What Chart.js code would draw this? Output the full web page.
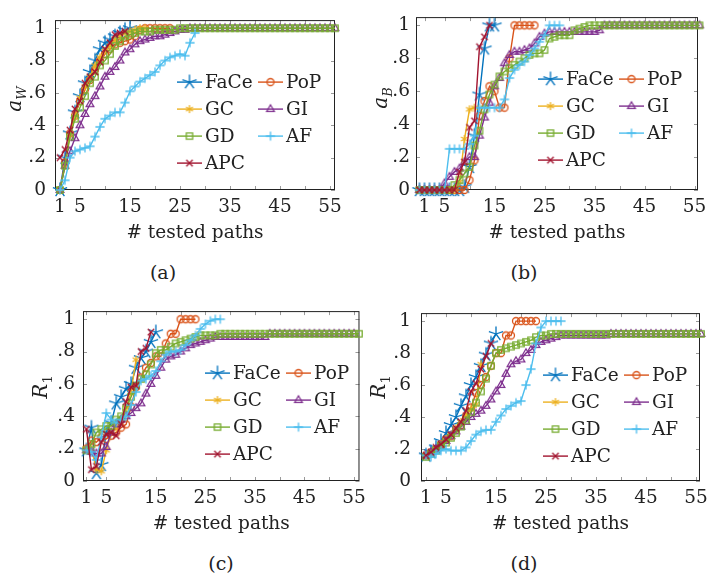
<!DOCTYPE html>
<html>
<head>
<meta charset="utf-8">
<script src="https://cdn.jsdelivr.net/npm/chart.js@4.4.1/dist/chart.umd.min.js"></script>
<style>
  body { margin: 0; background: #fff; width: 721px; height: 584px; position: relative; overflow: hidden;
         font-family: 'DejaVu Serif', serif; color: #222; }
  canvas { position: absolute; }
  .cap { position: absolute; font-size: 19px; transform: translate(-50%, -50%); white-space: nowrap; }
  .yt { position: absolute; font-size: 20px; font-style: italic; white-space: nowrap;
        transform: translate(-50%, -50%) rotate(-90deg); }
  .yt sub { font-size: 13px; font-style: italic; }
  .yt sub.n { font-style: normal; }
</style>
</head>
<body>

<canvas id="pa" width="360" height="250" style="left:0;top:0"></canvas>
<canvas id="pb" width="361" height="250" style="left:360px;top:0"></canvas>
<canvas id="pc" width="372" height="250" style="left:0;top:292px"></canvas>
<canvas id="pd" width="349" height="250" style="left:372px;top:292px"></canvas>

<div class="yt" style="left:15px;top:99px">a<sub>W</sub></div>
<div class="yt" style="left:381px;top:98px">a<sub>B</sub></div>
<div class="yt" style="left:41px;top:387px">R<sub class="n">1</sub></div>
<div class="yt" style="left:379px;top:387px">R<sub class="n">1</sub></div>

<div class="cap" style="left:163px;top:272px">(a)</div>
<div class="cap" style="left:524px;top:272px">(b)</div>
<div class="cap" style="left:221px;top:563px">(c)</div>
<div class="cap" style="left:524px;top:563px">(d)</div>

<script>
// series order = legend order (filled row by row, two columns)
const SERIES = ['FaCe', 'PoP', 'GC', 'GI', 'GD', 'AF', 'APC'];
const COLORS = ['#0072bd', '#d95319', '#edb120', '#7e2f8e', '#77ac30', '#4dbeee', '#a2142f'];
const MARKS = ['star', 'circle', 'asterisk', 'triangle', 'square', 'plus', 'cross'];

const XTICKS = [1, 5, 10, 15, 20, 25, 30, 35, 40, 45, 50, 55];
const XLABELS = [1, 5, 15, 25, 35, 45, 55];
const YTICKS = [0, 0.2, 0.4, 0.6, 0.8, 1];
const YLABELS = ['0', '.2', '.4', '.6', '.8', '1'];

// (a) a_W, x = 1, 2, ...
const A_FaCe = [0, 0.2, 0.35, 0.48, 0.58, 0.66, 0.73, 0.8, 0.87, 0.91, 0.93, 0.95, 0.97, 0.99, 1];
const A_PoP = [0, 0.17, 0.35, 0.46, 0.55, 0.62, 0.68, 0.74, 0.8, 0.84, 0.87, 0.9, 0.91, 0.92, 0.93, 0.95, 0.99, 1, 1, 1, 1, 1, 1];
const A_GC = [0, 0.15, 0.34, 0.45, 0.57, 0.64, 0.7, 0.77, 0.82, 0.86, 0.89, 0.93, 0.95, 0.97, 0.98, 0.99, 1, 1];
const A_GI = [0, 0.15, 0.24, 0.32, 0.4, 0.47, 0.53, 0.58, 0.64, 0.7, 0.73, 0.76, 0.8, 0.85, 0.87, 0.9, 0.92, 0.93, 0.94, 0.95, 0.95, 0.96, 0.97, 0.98, 0.99, 0.99,
  1, 1, 1, 1, 1, 1, 1, 1, 1, 1, 1, 1, 1, 1, 1, 1, 1, 1, 1, 1, 1, 1, 1, 1, 1, 1, 1, 1, 1, 1];
const A_GD = [0, 0.15, 0.33, 0.44, 0.51, 0.58, 0.66, 0.7, 0.77, 0.8, 0.84, 0.89, 0.92, 0.95, 0.96, 0.97, 0.98, 0.98, 0.98, 0.99, 0.99, 0.99, 0.99, 0.99,
  1, 1, 1, 1, 1, 1, 1, 1, 1, 1, 1, 1, 1, 1, 1, 1, 1, 1, 1, 1, 1, 1, 1, 1, 1, 1, 1, 1, 1, 1, 1, 1];
const A_AF = [0, 0.06, 0.2, 0.24, 0.25, 0.26, 0.27, 0.33, 0.39, 0.44, 0.46, 0.48, 0.48, 0.54, 0.61, 0.64, 0.67, 0.69, 0.71, 0.73, 0.77, 0.8, 0.82, 0.83, 0.84, 0.83, 0.91, 0.97];
const A_APC = [0.2, 0.25, 0.37, 0.5, 0.55, 0.66, 0.7, 0.73, 0.79, 0.87, 0.91, 0.96, 0.97, 0.98];

// (b) a_B, x = 0, 1, 2, ...
const B_FaCe = [0, 0, 0, 0, 0, 0, 0, 0, 0, 0.02, 0.14, 0.33, 0.58, 0.86, 1, 1];
const B_PoP = [0, 0, 0, 0, 0, 0, 0, 0, 0, 0, 0.06, 0.18, 0.45, 0.54, 0.63, 0.6, 0.5, 0.5, 0.8, 1, 1, 1, 1, 1];
const B_GC = [0, 0, 0, 0, 0, 0, 0, 0, 0.05, 0.31, 0.49, 0.5];
const B_GI = [0, 0, 0, 0, 0, 0.04, 0.08, 0.11, 0.13, 0.17, 0.2, 0.2, 0.33, 0.44, 0.53, 0.63, 0.68, 0.77, 0.82, 0.84, 0.84, 0.85, 0.86, 0.89, 0.93, 0.95,
  0.96, 0.96, 0.96, 0.96, 0.96, 0.96, 0.96, 0.96, 0.96, 0.96, 0.97,
  1, 1, 1, 1, 1, 1, 1, 1, 1, 1, 1, 1, 1, 1, 1, 1, 1, 1, 1, 1];
const B_GD = [0, 0, 0, 0, 0, 0, 0, 0.03, 0.06, 0.1, 0.14, 0.27, 0.36, 0.49, 0.58, 0.64, 0.69, 0.72, 0.74, 0.76, 0.78, 0.8, 0.82, 0.83, 0.83, 0.85,
  0.92, 0.93, 0.94, 0.94, 0.94, 0.97, 0.98, 0.99,
  1, 1, 1, 1, 1, 1, 1, 1, 1, 1, 1, 1, 1, 1, 1, 1, 1, 1, 1, 1, 1, 1, 1];
const B_AF = [0, 0, 0, 0, 0, 0, 0.25, 0.25, 0.25, 0.25, 0.28, 0.33, 0.5, 0.5, 0.5, 0.5, 0.5, 0.55, 0.68, 0.73, 0.76, 0.78, 0.82, 0.86, 0.9, 0.94, 1, 1, 1];
const B_APC = [0, 0, 0, 0, 0, 0, 0, 0, 0.11, 0.17, 0.38, 0.42, 0.87, 0.93, 1];

// (c) R_1, x = 1, 2, ...
const C_FaCe = [0.19, 0.33, 0.05, 0.1, 0.3, 0.36, 0.48, 0.52, 0.57, 0.6, 0.7, 0.76, 0.8, 0.86, 0.92];
const C_PoP = [0.2, 0.25, 0.24, 0.27, 0.26, 0.28, 0.3, 0.33, 0.35, 0.46, 0.58, 0.64, 0.7, 0.73, 0.77, 0.77, 0.85, 0.91, 0.91, 1, 1, 1, 1];
const C_GC = [0.2, 0.2, 0.07, 0.06, 0.19, 0.3, 0.33, 0.38, 0.45, 0.55, 0.75];
const C_GI = [0.19, 0.18, 0.17, 0.17, 0.21, 0.3, 0.35, 0.38, 0.4, 0.42, 0.45, 0.48, 0.54, 0.6, 0.65, 0.7, 0.75, 0.77, 0.78, 0.8, 0.82, 0.84, 0.85, 0.86, 0.87, 0.88,
  0.89, 0.89, 0.89, 0.89, 0.89, 0.89, 0.89, 0.89, 0.89, 0.89, 0.89,
  0.91, 0.91, 0.91, 0.91, 0.91, 0.91, 0.91, 0.91, 0.91, 0.91, 0.91, 0.91, 0.91, 0.91, 0.91, 0.91, 0.91, 0.91];
const C_GD = [0.19, 0.23, 0.3, 0.32, 0.34, 0.34, 0.38, 0.4, 0.45, 0.52, 0.59, 0.63, 0.66, 0.72, 0.79, 0.81, 0.81, 0.83, 0.85, 0.86, 0.87, 0.88, 0.89, 0.9, 0.9, 0.9, 0.9,
  0.91, 0.91, 0.91, 0.91, 0.91, 0.91, 0.91, 0.91, 0.91, 0.91, 0.91, 0.91, 0.91, 0.91, 0.91, 0.91, 0.91, 0.91, 0.91, 0.91, 0.91, 0.91, 0.91, 0.91, 0.91, 0.91, 0.91, 0.91, 0.91];
const C_AF = [0.19, 0.18, 0.13, 0.27, 0.42, 0.38, 0.36, 0.38, 0.4, 0.47, 0.55, 0.62, 0.63, 0.65, 0.68, 0.74, 0.78, 0.8, 0.8, 0.81, 0.84, 0.87, 0.9, 0.94, 0.97, 0.99, 1, 1];
const C_APC = [0.32, 0.07, 0.09, 0.24, 0.29, 0.3, 0.28, 0.35, 0.49, 0.58, 0.59, 0.8, 0.82, 0.92];

// (d) R_1, x = 1, 2, ...
const D_FaCe = [0.16, 0.18, 0.21, 0.25, 0.3, 0.35, 0.4, 0.47, 0.53, 0.6, 0.65, 0.72, 0.79, 0.86, 0.92];
const D_PoP = [0.16, 0.18, 0.2, 0.23, 0.26, 0.28, 0.32, 0.35, 0.4, 0.46, 0.55, 0.6, 0.65, 0.72, 0.8, 0.8, 0.91, 0.91, 1, 1, 1, 1, 1];
const D_GC = [0.16, 0.18, 0.2, 0.23, 0.26, 0.29, 0.33, 0.37, 0.41, 0.45, 0.48, 0.73];
const D_GI = [0.16, 0.18, 0.2, 0.22, 0.25, 0.28, 0.31, 0.34, 0.37, 0.4, 0.42, 0.44, 0.47, 0.51, 0.56, 0.6, 0.67, 0.73, 0.75, 0.76, 0.8, 0.82, 0.85, 0.87, 0.88, 0.89, 0.9,
  0.91, 0.91, 0.91, 0.91, 0.91, 0.91, 0.91, 0.91, 0.91, 0.91,
  0.92, 0.92, 0.92, 0.92, 0.92, 0.92, 0.92, 0.92, 0.92, 0.92, 0.92, 0.92, 0.92, 0.92, 0.92, 0.92, 0.92, 0.92, 0.92];
const D_GD = [0.15, 0.17, 0.19, 0.22, 0.24, 0.27, 0.3, 0.34, 0.38, 0.43, 0.49, 0.56, 0.64, 0.72, 0.8, 0.82, 0.83, 0.84, 0.85, 0.86, 0.87, 0.88, 0.9, 0.91, 0.91,
  0.92, 0.92, 0.92, 0.92, 0.92, 0.92, 0.92, 0.92, 0.92, 0.92, 0.92, 0.92, 0.92, 0.92, 0.92, 0.92, 0.92, 0.92, 0.92, 0.92, 0.92, 0.92, 0.92, 0.92, 0.92, 0.92, 0.92, 0.92, 0.92, 0.92, 0.92];
const D_AF = [0.16, 0.15, 0.17, 0.19, 0.2, 0.19, 0.19, 0.19, 0.21, 0.25, 0.29, 0.31, 0.32, 0.32, 0.37, 0.41, 0.45, 0.47, 0.49, 0.5, 0.6, 0.7, 0.86, 0.96, 1, 1, 1, 1];
const D_APC = [0.16, 0.18, 0.21, 0.23, 0.26, 0.29, 0.33, 0.37, 0.44, 0.56, 0.61, 0.7, 0.78, 0.86];

const FONT = 'DejaVu Serif';
const FONT_SIZE = 18.5;

// panel layout: canvas id, first x, x range, plot rectangle inside the canvas
const panels = [
  { id: 'pa', start: 1, xmin: 0, xmax: 56, area: [55, 9, 335, 190], titleOff: 17, ypad: 9,
    values: [A_FaCe, A_PoP, A_GC, A_GI, A_GD, A_AF, A_APC] },
  { id: 'pb', start: 0, xmin: -0.7, xmax: 55.7, area: [56, 9, 338, 190], titleOff: 17, ypad: 6,
    values: [B_FaCe, B_PoP, B_GC, B_GI, B_GD, B_AF, B_APC] },
  { id: 'pc', start: 1, xmin: 0.3, xmax: 56.1, area: [83, 9, 362, 189], titleOff: 18, ypad: 8,
    values: [C_FaCe, C_PoP, C_GC, C_GI, C_GD, C_AF, C_APC] },
  { id: 'pd', start: 1, xmin: 0, xmax: 55.8, area: [49, 9, 328, 189], titleOff: 18, ypad: 10,
    values: [D_FaCe, D_PoP, D_GC, D_GI, D_GD, D_AF, D_APC] }
];

// small canvases used as point styles
function markImage(kind, color) {
  const s = 18, c = document.createElement('canvas');
  c.width = s; c.height = s;
  const g = c.getContext('2d');
  g.strokeStyle = color;
  g.lineWidth = 1.3;
  g.translate(s / 2, s / 2);
  g.beginPath();
  if (kind === 'star') {
    for (let k = 0; k < 5; k++) {
      const a = -Math.PI / 2 + k * 2 * Math.PI / 5;
      g.moveTo(0, 0); g.lineTo(7.5 * Math.cos(a), 7.5 * Math.sin(a));
    }
  } else if (kind === 'asterisk') {
    for (let k = 0; k < 3; k++) {
      const a = Math.PI / 2 + k * Math.PI / 3;
      g.moveTo(-4 * Math.cos(a), -4 * Math.sin(a)); g.lineTo(4 * Math.cos(a), 4 * Math.sin(a));
    }
  } else if (kind === 'circle') {
    g.arc(0, 0, 3.5, 0, 2 * Math.PI);
  } else if (kind === 'triangle') {
    g.moveTo(0, -4.3); g.lineTo(3.8, 2.3); g.lineTo(-3.8, 2.3); g.closePath();
  } else if (kind === 'square') {
    g.rect(-3.2, -3.2, 6.4, 6.4);
  } else if (kind === 'plus') {
    g.moveTo(-4.6, 0); g.lineTo(4.6, 0); g.moveTo(0, -4.6); g.lineTo(0, 4.6);
  } else if (kind === 'cross') {
    g.moveTo(-3.2, -3.2); g.lineTo(3.2, 3.2); g.moveTo(3.2, -3.2); g.lineTo(-3.2, 3.2);
  }
  g.stroke();
  return c;
}

const MARK_IMGS = MARKS.map((m, i) => markImage(m, COLORS[i]));

// frame and inward tick marks on all four sides
const framePlugin = {
  id: 'frame',
  beforeDatasetsDraw(chart) {
    const ctx = chart.ctx, a = chart.chartArea;
    const xs = chart.scales.x, ys = chart.scales.y;
    ctx.save();
    ctx.strokeStyle = '#9a9a9a';
    ctx.lineWidth = 1;
    ctx.beginPath();
    XTICKS.forEach(v => {
      const p = Math.round(xs.getPixelForValue(v)) + 0.5;
      ctx.moveTo(p, a.bottom); ctx.lineTo(p, a.bottom - 4);
      ctx.moveTo(p, a.top); ctx.lineTo(p, a.top + 4);
    });
    YTICKS.forEach(v => {
      const p = Math.round(ys.getPixelForValue(v)) + 0.5;
      ctx.moveTo(a.left, p); ctx.lineTo(a.left + 4, p);
      ctx.moveTo(a.right, p); ctx.lineTo(a.right - 4, p);
    });
    ctx.stroke();
    ctx.strokeStyle = '#222';
    ctx.strokeRect(a.left + 0.5, a.top + 0.5, a.right - a.left - 1, a.bottom - a.top - 1);
    ctx.restore();
  }
};

// legend inside the plot, two columns
const legendPlugin = {
  id: 'innerLegend',
  afterDatasetsDraw(chart) {
    const ctx = chart.ctx, a = chart.chartArea;
    chart.data.datasets.forEach((ds, i) => {
      const x = a.left + 122 + (i % 2) * 81;
      const y = a.top + 62 + Math.floor(i / 2) * 27;
      ctx.save();
      ctx.strokeStyle = ds.borderColor;
      ctx.lineWidth = ds.borderWidth;
      ctx.beginPath(); ctx.moveTo(x, y); ctx.lineTo(x + 25, y); ctx.stroke();
      ctx.drawImage(ds.pointStyle, x + 12.5 - 9, y - 9);
      ctx.fillStyle = '#222';
      ctx.font = FONT_SIZE + 'px "' + FONT + '"';
      ctx.textBaseline = 'middle';
      ctx.fillText(ds.label, x + 28, y + 1);
      ctx.restore();
    });
  }
};

function makeChart(p) {
  const cv = document.getElementById(p.id);
  const W = cv.width, H = cv.height;
  const [L, T, R, B] = p.area;

  const datasets = SERIES.map((name, i) => ({
    label: name,
    data: p.values[i].map((y, k) => ({ x: p.start + k, y: y })),
    borderColor: COLORS[i],
    backgroundColor: COLORS[i],
    borderWidth: 1.4,
    pointStyle: MARK_IMGS[i],
    pointRadius: 4,
    order: SERIES.length - i,
    clip: false,
    tension: 0
  }));

  new Chart(cv, {
    type: 'line',
    data: { datasets },
    options: {
      responsive: false,
      animation: false,
      events: [],
      layout: { padding: { left: 0, top: T, right: W - R, bottom: 0 } },
      plugins: { legend: { display: false }, tooltip: { enabled: false } },
      scales: {
        x: {
          type: 'linear',
          min: p.xmin,
          max: p.xmax,
          grid: { display: false, drawTicks: false },
          border: { display: false },
          afterBuildTicks: s => { s.ticks = XTICKS.map(v => ({ value: v })); },
          afterFit: s => { s.height = H - B; },
          ticks: {
            autoSkip: false, maxRotation: 0, padding: 6, color: '#222',
            font: { family: FONT, size: FONT_SIZE },
            callback: v => XLABELS.includes(v) ? String(v) : ''
          },
          title: {
            display: true, text: '# tested paths', color: '#222',
            font: { family: FONT, size: FONT_SIZE, lineHeight: 1 },
            padding: { top: 0, bottom: p.titleOff - FONT_SIZE / 2 }
          }
        },
        y: {
          min: 0,
          max: 1.05,
          grid: { display: false, drawTicks: false },
          border: { display: false },
          afterBuildTicks: s => { s.ticks = YTICKS.map(v => ({ value: v })); },
          afterFit: s => { s.width = L; },
          ticks: {
            padding: p.ypad, color: '#222',
            font: { family: FONT, size: FONT_SIZE },
            callback: v => YLABELS[YTICKS.findIndex(t => Math.abs(t - v) < 1e-6)]
          }
        }
      }
    },
    plugins: [framePlugin, legendPlugin]
  });
}

panels.forEach(makeChart);
</script>
</body>
</html>
